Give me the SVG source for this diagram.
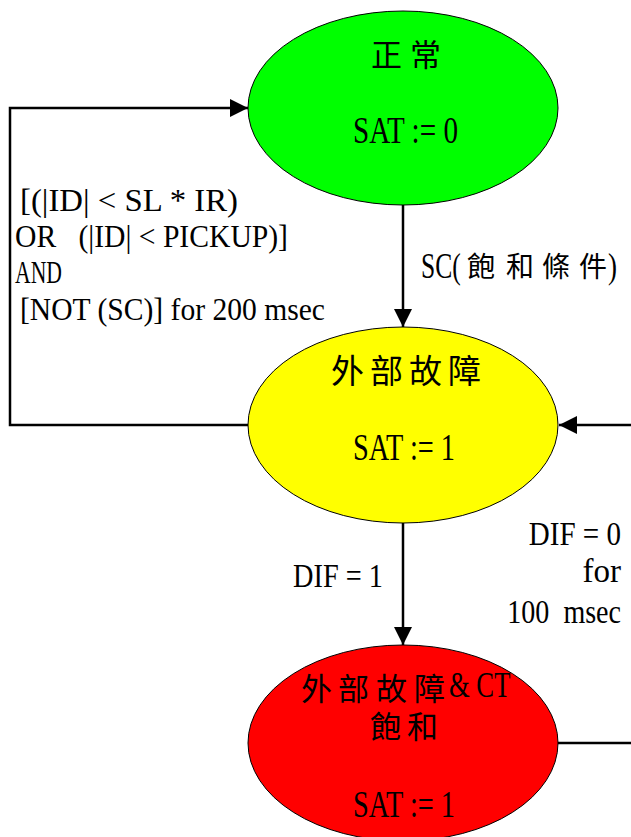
<svg xmlns="http://www.w3.org/2000/svg" width="631" height="837" viewBox="0 0 631 837">
<defs>
<style>
.node{stroke:#000;stroke-width:1}
.lat{font-family:"Liberation Serif","Noto Sans CJK TC",serif;fill:#000}
.cjk{font-family:"Noto Sans CJK TC","Noto Sans CJK SC",sans-serif;fill:#000}
.edge{fill:none;stroke:#000;stroke-width:2.5}
</style>
<marker id="arr" markerUnits="userSpaceOnUse" markerWidth="18" markerHeight="18" refX="18" refY="9" orient="auto">
<path d="M0,0 L18,9 L0,18 z" fill="#000"/>
</marker>
</defs>
<rect width="631" height="837" fill="#fff"/>
<g id="connectors">
<path class="edge" d="M248,425 H10 V108 H248" marker-end="url(#arr)"/>
<path class="edge" d="M403,205 V327" marker-end="url(#arr)"/>
<path class="edge" d="M403,523 V645" marker-end="url(#arr)"/>
<path class="edge" d="M631,425 H559" marker-end="url(#arr)"/>
<path class="edge" d="M558,743 H631"/>
<text class="lat" font-size="31" x="20" y="211" textLength="218" lengthAdjust="spacingAndGlyphs">[(|ID| &lt; SL * IR)</text>
<text class="lat" font-size="31" x="15" y="247" textLength="273" lengthAdjust="spacingAndGlyphs" xml:space="preserve">OR   (|ID| &lt; PICKUP)]</text>
<text class="lat" font-size="31" x="15" y="283" textLength="47" lengthAdjust="spacingAndGlyphs">AND</text>
<text class="lat" font-size="31" x="20" y="320" textLength="305" lengthAdjust="spacingAndGlyphs">[NOT (SC)] for 200 msec</text>
<g transform="translate(421,278) scale(0.71,1)"><text class="lat" font-size="36">SC(</text></g>
<text class="cjk" font-size="28" x="467 506 542 579" y="277">飽和條件</text>
<g transform="translate(608,278) scale(0.75,1)"><text class="lat" font-size="36">)</text></g>
<text class="lat" font-size="33" x="293" y="587" textLength="90" lengthAdjust="spacingAndGlyphs">DIF = 1</text>
<g transform="translate(621,545) scale(0.88,1)"><text class="lat" font-size="33" text-anchor="end">DIF = 0</text></g>
<g transform="translate(621,582)"><text class="lat" font-size="33" text-anchor="end">for</text></g>
<g transform="translate(621,623) scale(0.85,1)"><text class="lat" font-size="33" text-anchor="end" xml:space="preserve">100  msec</text></g>
</g>
<g id="normal">
<ellipse class="node" cx="403" cy="108" rx="155" ry="97" fill="#00ff00"/>
<text class="cjk" font-size="31" x="371 410" y="66">正常</text>
<text class="lat" font-size="38" x="353" y="143" textLength="105" lengthAdjust="spacingAndGlyphs">SAT := 0</text>
</g>
<g id="external-fault">
<ellipse class="node" cx="403" cy="425" rx="155" ry="98" fill="#ffff00"/>
<text class="cjk" font-size="33" x="331 370 409 448" y="383">外部故障</text>
<text class="lat" font-size="38" x="353" y="460" textLength="102" lengthAdjust="spacingAndGlyphs">SAT := 1</text>
</g>
<g id="ct-saturation">
<ellipse class="node" cx="403" cy="743" rx="155" ry="98" fill="#ff0000"/>
<text class="cjk" font-size="31"><tspan x="301 338 376 414" y="700">外部故障</tspan><tspan x="370 407" y="738">飽和</tspan></text>
<g transform="translate(449,697) scale(0.74,1)"><text class="lat" font-size="36">&amp; CT</text></g>
<text class="lat" font-size="38" x="353" y="817" textLength="102" lengthAdjust="spacingAndGlyphs">SAT := 1</text>
</g>
</svg>
